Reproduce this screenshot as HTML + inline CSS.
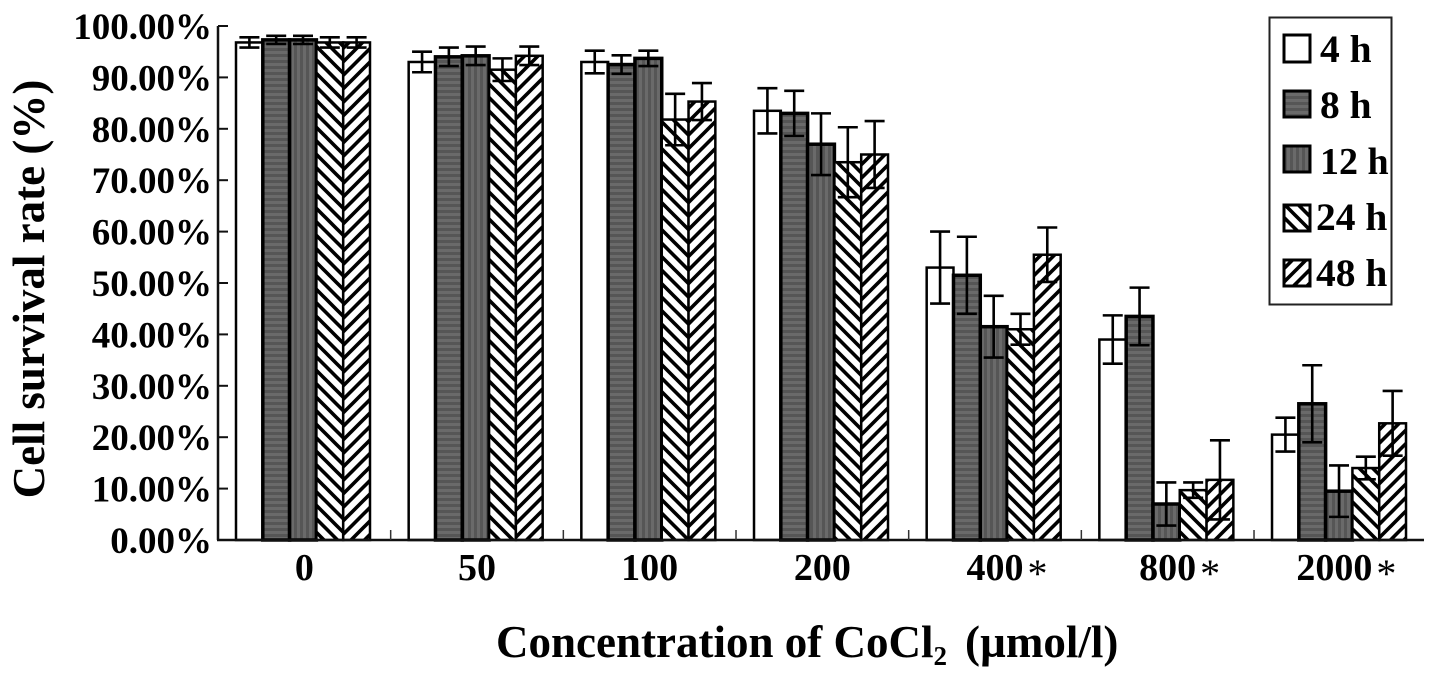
<!DOCTYPE html>
<html>
<head>
<meta charset="utf-8">
<style>
html,body{margin:0;padding:0;background:#fff;}
svg{display:block;font-family:"Liberation Serif",serif;font-weight:bold;fill:#000;}
</style>
</head>
<body>
<svg id="chart" xmlns="http://www.w3.org/2000/svg" width="1441" height="679" viewBox="0 0 1441 679">
<defs>
<pattern id="p8" patternUnits="userSpaceOnUse" width="6" height="6"><rect width="6" height="6" fill="#6a6a6a"/><rect width="6" height="3" fill="#565656"/></pattern>
<pattern id="p12" patternUnits="userSpaceOnUse" width="6" height="6"><rect width="6" height="6" fill="#6a6a6a"/><rect width="3" height="6" fill="#565656"/></pattern>
<pattern id="p24" patternUnits="userSpaceOnUse" width="13.5" height="13.5"><rect width="13.5" height="13.5" fill="#fff"/><path d="M-3,-3 L16.5,16.5 M-3,10.5 L3,16.5 M10.5,-3 L16.5,3" stroke="#000" stroke-width="3.6" fill="none"/></pattern>
<pattern id="p48" patternUnits="userSpaceOnUse" width="13.5" height="13.5"><rect width="13.5" height="13.5" fill="#fff"/><path d="M16.5,-3 L-3,16.5 M3,-3 L-3,3 M16.5,10.5 L10.5,16.5" stroke="#000" stroke-width="3.6" fill="none"/></pattern>
</defs>
<rect x="0" y="0" width="1441" height="679" fill="#fff"/>
<g id="marks"></g>
<g id="axes"></g>
<text transform="translate(44,289) rotate(-90)" text-anchor="middle" font-size="45">Cell survival rate (%)</text>
<text x="496" y="657" font-size="45">Concentration of CoCl<tspan font-size="27" dy="8">2</tspan><tspan dy="-8" dx="18">(µmol/l)</tspan></text>
<g>
<rect x="1269.5" y="17.5" width="122" height="287" fill="#fff" stroke="#222" stroke-width="2"/>
<g><rect x="1284" y="35" width="26" height="27" fill="#fff" stroke="#000" stroke-width="3"/><text x="1320" y="62" font-size="39.5">4 h</text></g>
<g><rect x="1284" y="91" width="26" height="26" fill="url(#p8)" stroke="#000" stroke-width="3"/><text x="1320" y="118" font-size="39.5">8 h</text></g>
<g><rect x="1284" y="146" width="26" height="26" fill="url(#p12)" stroke="#000" stroke-width="3"/><text x="1320" y="174" font-size="38">12 h</text></g>
<g><rect x="1284" y="205" width="26" height="26" fill="url(#p24)" stroke="#000" stroke-width="3"/><text x="1316" y="230" font-size="39.5">24 h</text></g>
<g><rect x="1284" y="260" width="26" height="26" fill="url(#p48)" stroke="#000" stroke-width="3"/><text x="1316" y="286" font-size="39.5">48 h</text></g>
</g>
</svg>
<script>
var categories = ["0", "50", "100", "200", "400", "800", "2000"];
var significant = [false, false, false, false, true, true, true];
var seriesNames = ["4 h", "8 h", "12 h", "24 h", "48 h"];
var values4h = [96.8, 93.0, 93.0, 83.5, 53.0, 39.0, 20.5];
var values8h = [97.3, 94.0, 92.5, 83.0, 51.5, 43.5, 26.5];
var values12h = [97.3, 94.2, 93.7, 77.0, 41.5, 7.0, 9.5];
var values24h = [96.8, 91.5, 81.8, 73.5, 41.0, 9.7, 14.0];
var values48h = [96.8, 94.2, 85.3, 75.0, 55.5, 11.7, 22.7];
var errors4h = [1.0, 2.0, 2.2, 4.4, 7.0, 4.7, 3.3];
var errors8h = [0.8, 1.8, 1.8, 4.4, 7.5, 5.6, 7.5];
var errors12h = [0.8, 1.8, 1.5, 6.0, 6.0, 4.2, 5.0];
var errors24h = [1.0, 2.2, 5.0, 6.8, 3.0, 1.5, 2.2];
var errors48h = [1.0, 1.8, 3.6, 6.5, 5.3, 7.7, 6.3];
var yTickValues = [0, 10, 20, 30, 40, 50, 60, 70, 80, 90, 100];
var yTickLabels = ["0.00%", "10.00%", "20.00%", "30.00%", "40.00%", "50.00%", "60.00%", "70.00%", "80.00%", "90.00%", "100.00%"];

var allValues = [values4h, values8h, values12h, values24h, values48h];
var allErrors = [errors4h, errors8h, errors12h, errors24h, errors48h];
var fills = ["#fff", "url(#p8)", "url(#p12)", "url(#p24)", "url(#p48)"];
var strokeWidths = [2.5, 3.5, 3.5, 2.5, 2.5];
var NS = "http://www.w3.org/2000/svg";
var plotLeft = 218, plotRight = 1424, y0 = 540, pxPerUnit = 5.14;
var groupWidth = 172.67;
var barWidth = 26.8, groupPad = 18;

function yScale(v) { return y0 - v * pxPerUnit; }
function xBar(g, s) { return plotLeft + g * groupWidth + groupPad + s * barWidth; }
function xGroup(g) { return plotLeft + (g + 0.5) * groupWidth; }
function make(tag, attrs, parent) {
  var el = document.createElementNS(NS, tag);
  for (var k in attrs) el.setAttribute(k, attrs[k]);
  parent.appendChild(el);
  return el;
}

var marks = document.getElementById("marks");
var axes = document.getElementById("axes");

allValues.forEach(function (series, s) {
  series.forEach(function (v, g) {
    var bar = make("rect", { x: xBar(g, s), y: yScale(v), width: barWidth, height: y0 - yScale(v), fill: fills[s], stroke: "#000", "stroke-width": strokeWidths[s] }, marks);
    
    
  });
});
allValues.forEach(function (series, s) {
  series.forEach(function (v, g) {
    var e = allErrors[s][g];
    var cx = xBar(g, s) + barWidth / 2;
    var err = make("path", {
      d: "M" + cx + "," + yScale(v + e) + " V" + yScale(v - e) +
         " M" + (cx - 10) + "," + yScale(v + e) + " h20" +
         " M" + (cx - 10) + "," + yScale(v - e) + " h20",
      stroke: "#000", "stroke-width": 2.6, fill: "none"
    }, marks);
    
    
  });
});

var yAxisLine = make("path", { d: "M" + plotLeft + "," + yScale(100) + " V" + y0, stroke: "#111", "stroke-width": 2.5, fill: "none" }, axes);


var xAxisLine = make("path", { d: "M" + (plotLeft - 1) + "," + y0 + " H" + plotRight, stroke: "#111", "stroke-width": 2.5, fill: "none" }, axes);



yTickValues.forEach(function (v, i) {
  var tick = make("path", { d: "M" + plotLeft + "," + yScale(v) + " h10", stroke: "#111", "stroke-width": 2, fill: "none" }, axes);
  
  
  var label = make("text", { x: 212, y: yScale(v) + 13, "text-anchor": "end", "font-size": 37 }, axes);
  
  
  label.textContent = yTickLabels[i];
});

for (var b = 1; b < categories.length; b++) {
  var xt = plotLeft + b * groupWidth;
  var minor = make("path", { d: "M" + xt + "," + y0 + " v-10", stroke: "#333", "stroke-width": 1.5, fill: "none" }, axes);
  
  
}

categories.forEach(function (c, g) {
  var shift = c.length > 3 ? -6 : 0;
  var label = make("text", { x: xGroup(g) + shift, y: 580, "text-anchor": "middle", "font-size": 38 }, axes);
  
  
  label.textContent = c;
  if (significant[g]) {
    var w = c.length * 19;
    var star = make("text", { x: xGroup(g) + shift + w / 2 + 4, y: 587, "font-size": 40, "font-weight": "normal" }, axes);
    
    
    star.textContent = "*";
  }
});
</script>
</body>
</html>
